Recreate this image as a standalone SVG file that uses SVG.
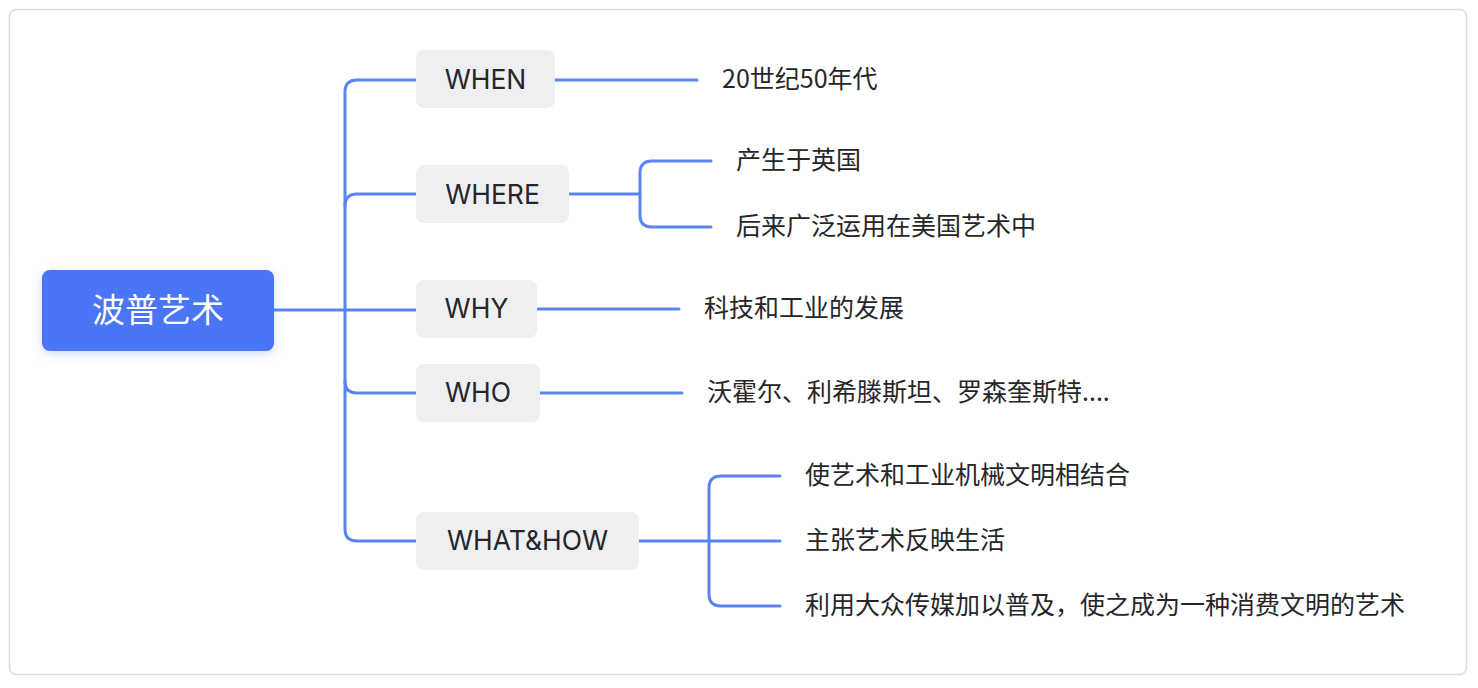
<svg xmlns="http://www.w3.org/2000/svg" width="1478" height="688" viewBox="0 0 1478 688">
<defs>
<filter id="sh" x="-20%" y="-30%" width="140%" height="160%">
<feDropShadow dx="0" dy="3" stdDeviation="5" flood-color="#4A75F6" flood-opacity="0.25"/>
</filter>
<style>
.frame{fill:#fff;stroke:#dcdcdf;stroke-width:1.5}
.root{fill:#4874F6;filter:url(#sh)}
.rt{fill:#fff;font-family:"Noto Sans CJK SC","Noto Sans",sans-serif;font-size:33px;text-anchor:middle;dominant-baseline:central}
.br{fill:#EEEFF1}
.bt{fill:#262629;font-family:Inter,"Noto Sans",sans-serif;font-size:26.5px;text-anchor:middle;dominant-baseline:central}
.lt{fill:#262629;font-family:"Noto Sans CJK SC","Noto Sans",sans-serif;font-size:25px;dominant-baseline:central}
.c{fill:none;stroke:#5A84F4;stroke-width:3;stroke-linecap:round;stroke-linejoin:round}
</style>
</defs>
<rect class="frame" x="9.5" y="9.5" width="1457" height="665" rx="7"/>
<g id="connectors">
<path class="c" d="M274 310 L416 310"/>
<path class="c" d="M345 310 L345 92 Q345 80 357 80 L416 80"/>
<path class="c" d="M345 206 Q345 194 357 194 L416 194"/>
<path class="c" d="M345 310 L345 529 Q345 541 357 541 L416 541"/>
<path class="c" d="M345 381 Q345 393 357 393 L416 393"/>
<path class="c" d="M555 80 L697 80"/>
<path class="c" d="M569 194 L640 194"/>
<path class="c" d="M711 161 L652 161 Q640 161 640 173 L640 215 Q640 227 652 227 L711 227"/>
<path class="c" d="M537 309 L679 309"/>
<path class="c" d="M540 393 L682 393"/>
<path class="c" d="M639 541 L780 541"/>
<path class="c" d="M780 476 L721 476 Q709 476 709 488 L709 594 Q709 606 721 606 L780 606"/>
</g>
<g id="root"><rect class="root" x="42" y="270" width="232" height="81" rx="8"/><text class="rt" x="158" y="308">波普艺术</text></g>
<g id="when"><rect class="br" x="416" y="50" width="139" height="58" rx="8"/><text class="bt" x="485.5" y="79">WHEN</text></g>
<g id="where"><rect class="br" x="416" y="165" width="153" height="58" rx="8"/><text class="bt" x="492.5" y="194">WHERE</text></g>
<g id="why"><rect class="br" x="416" y="280" width="121" height="58" rx="8"/><text class="bt" x="476.5" y="308">WHY</text></g>
<g id="who"><rect class="br" x="416" y="364" width="124" height="58" rx="8"/><text class="bt" x="478" y="392">WHO</text></g>
<g id="whathow"><rect class="br" x="416" y="512" width="223" height="58" rx="8"/><text class="bt" x="527.5" y="540">WHAT&amp;HOW</text></g>
<g id="leaf-when"><text class="lt" x="722" y="77">20世纪50年代</text></g>
<g id="leaf-where1"><text class="lt" x="736" y="158">产生于英国</text></g>
<g id="leaf-where2"><text class="lt" x="736" y="224">后来广泛运用在美国艺术中</text></g>
<g id="leaf-why"><text class="lt" x="704" y="306">科技和工业的发展</text></g>
<g id="leaf-who"><text class="lt" x="707" y="390">沃霍尔、利希滕斯坦、罗森奎斯特....</text></g>
<g id="leaf-wh1"><text class="lt" x="805" y="473">使艺术和工业机械文明相结合</text></g>
<g id="leaf-wh2"><text class="lt" x="805" y="538">主张艺术反映生活</text></g>
<g id="leaf-wh3"><text class="lt" x="805" y="603">利用大众传媒加以普及，使之成为一种消费文明的艺术</text></g>
</svg>
